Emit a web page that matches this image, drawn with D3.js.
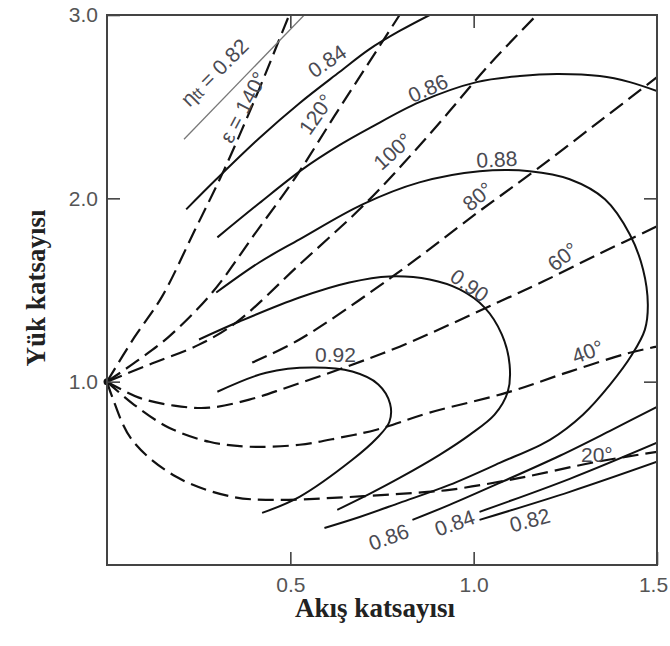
<!DOCTYPE html>
<html><head><meta charset="utf-8">
<script src="https://cdn.jsdelivr.net/npm/d3@7"></script>
<style>body{margin:0;background:#fff}</style>
</head><body><svg id="chart" width="670" height="646"></svg>
<script>
// ---------- data ----------
const xTicks = [0.5, 1.0, 1.5];
const yTicks = [1.0, 2.0, 3.0];
const xTitle = "Akış katsayısı";
const yTitle = "Yük katsayısı";

// efficiency contours (eta_tt), [flow coeff, load coeff]
const eff082Upper = [[0.210,2.322],[0.538,3.0]];
const eff084Upper = [[0.216,1.940],[0.298,2.104],[0.415,2.328],[0.525,2.519],[0.634,2.689],[0.716,2.814],[0.798,2.913],[0.880,3.0]];
const eff086Upper = [[0.301,1.787],[0.415,1.973],[0.533,2.158],[0.634,2.290],[0.716,2.383],[0.852,2.525],[1.008,2.634],[1.126,2.667],[1.227,2.678],[1.344,2.667],[1.426,2.634],[1.5,2.585]];
const eff088Loop = [[0.298,1.486],[0.415,1.650],[0.525,1.776],[0.697,1.967],[0.852,2.087],[1.016,2.148],[1.153,2.148],[1.262,2.104],[1.358,1.995],[1.426,1.803],[1.462,1.612],[1.475,1.421],[1.467,1.284],[1.432,1.148],[1.372,0.984],[1.298,0.820],[1.208,0.683],[1.071,0.557],[0.934,0.437],[0.798,0.339],[0.689,0.262],[0.593,0.202]];
const eff090Loop = [[0.251,1.230],[0.361,1.328],[0.525,1.459],[0.661,1.541],[0.770,1.574],[0.880,1.557],[0.962,1.503],[1.030,1.404],[1.077,1.257],[1.098,1.093],[1.093,0.945],[1.057,0.820],[0.989,0.710],[0.907,0.601],[0.798,0.475],[0.716,0.388],[0.628,0.301]];
const eff092Loop = [[0.301,0.945],[0.434,1.049],[0.560,1.077],[0.669,1.055],[0.740,0.985],[0.772,0.880],[0.770,0.780],[0.735,0.690],[0.669,0.574],[0.525,0.372],[0.423,0.284]];
const eff086Lower = [[0.833,0.246],[0.934,0.328],[1.071,0.448],[1.235,0.596],[1.372,0.732],[1.5,0.863]];
const eff084Lower = [[1.016,0.290],[1.262,0.470],[1.5,0.667]];
const eff082Lower = [[1.016,0.246],[1.262,0.399],[1.5,0.563]];

// flow angle lines (epsilon)
const ang140 = [[0,1],[0.074,1.240],[0.150,1.464],[0.238,1.820],[0.320,2.158],[0.415,2.596],[0.478,2.907],[0.497,3.0]];
const ang120 = [[0,1],[0.087,1.120],[0.169,1.246],[0.287,1.486],[0.402,1.803],[0.516,2.120],[0.620,2.448],[0.708,2.721],[0.798,3.0]];
const ang100 = [[0,1],[0.115,1.093],[0.251,1.202],[0.352,1.322],[0.525,1.639],[0.708,1.978],[0.880,2.350],[1.044,2.732],[1.172,3.0]];
const ang80  = [[0.396,1.104],[0.525,1.230],[0.779,1.574],[1.011,1.923],[1.172,2.158],[1.344,2.421],[1.5,2.661]];
const ang60  = [[0,1],[0.087,0.913],[0.183,0.869],[0.279,0.858],[0.388,0.902],[0.489,0.967],[0.661,1.087],[0.798,1.191],[0.934,1.311],[1.071,1.437],[1.189,1.546],[1.344,1.699],[1.5,1.847]];
const ang40  = [[0,1],[0.074,0.874],[0.169,0.749],[0.279,0.672],[0.388,0.645],[0.525,0.656],[0.634,0.694],[0.735,0.738],[0.880,0.831],[1.090,0.940],[1.262,1.055],[1.426,1.158],[1.5,1.191]];
const ang20  = [[0,1],[0.014,0.918],[0.068,0.683],[0.189,0.481],[0.342,0.372],[0.462,0.355],[0.615,0.366],[0.798,0.388],[0.934,0.410],[1.126,0.475],[1.336,0.563],[1.5,0.617]];

// curve labels: text, anchor [flow, load], rotation
const curveLabels = [
  {t:"ε = 140°", p:[0.371,2.497], r:-62},
  {t:"0.84", p:[0.600,2.749], r:-34},
  {t:"120°", p:[0.570,2.459], r:-55},
  {t:"0.86", p:[0.875,2.601], r:-24},
  {t:"100°", p:[0.779,2.257], r:-42},
  {t:"0.88", p:[1.063,2.213], r:-3},
  {t:"80°",  p:[1.011,2.011], r:-40},
  {t:"60°",  p:[1.243,1.683], r:-38},
  {t:"0.90", p:[0.989,1.525], r:35},
  {t:"0.92", p:[0.623,1.148], r:0},
  {t:"40°",  p:[1.311,1.164], r:-20},
  {t:"20°",  p:[1.336,0.601], r:0},
  {t:"0.86", p:[0.768,0.153], r:-20},
  {t:"0.84", p:[0.948,0.230], r:-20},
  {t:"0.82", p:[1.153,0.246], r:-15}
];
const etaLabel = {main:"η", sub:"tt", rest:" = 0.82", p:[0.292,2.689], r:-45};

// ---------- drawing ----------
const svg = d3.select("#chart");
const W = 670, H = 646;
const x = d3.scaleLinear().domain([0,1.5]).range([107,657]);
const y = d3.scaleLinear().domain([0,3]).range([565,15]);
const line = d3.line().x(d=>x(d[0])).y(d=>y(d[1])).curve(d3.curveCatmullRom.alpha(0.5));

svg.append("rect").attr("width",W).attr("height",H).attr("fill","#fff");
svg.append("clipPath").attr("id","plotclip").append("rect")
  .attr("x",x(0)).attr("y",y(3)).attr("width",x(1.5)-x(0)).attr("height",y(0)-y(3));

const plot = svg.append("g").attr("clip-path","url(#plotclip)");

const dashed = [ang140, ang120, ang100, ang80, ang60, ang40, ang20];
plot.selectAll("path.ang").data(dashed).enter().append("path")
  .attr("class","ang").attr("d",line).attr("fill","none")
  .attr("stroke","#111").attr("stroke-width",2.2).attr("stroke-dasharray","16,7");

const solid = [eff084Upper, eff086Upper, eff088Loop, eff090Loop, eff092Loop, eff086Lower, eff084Lower, eff082Lower];
plot.selectAll("path.eff").data(solid).enter().append("path")
  .attr("class","eff").attr("d",line).attr("fill","none")
  .attr("stroke","#111").attr("stroke-width",2);

plot.append("path").datum(eff082Upper).attr("d",line).attr("fill","none")
  .attr("stroke","#777").attr("stroke-width",1.3);

svg.append("circle").attr("cx",x(0)).attr("cy",y(1)).attr("r",3.5).attr("fill","#111");

// frame
svg.append("rect").attr("x",x(0)).attr("y",y(3)).attr("width",x(1.5)-x(0)).attr("height",y(0)-y(3))
  .attr("fill","none").attr("stroke","#444").attr("stroke-width",2);

const fmt = d3.format(".1f");
const axStyle = g => {
  g.select(".domain").remove();
  g.selectAll(".tick line").attr("stroke","#444").attr("stroke-width",1.6);
  g.selectAll(".tick text").attr("fill","#555").style("font-family","'Liberation Sans', Arial, sans-serif").style("font-size","21px");
};
const xAx = svg.append("g").attr("transform",`translate(0,${y(0)})`)
  .call(d3.axisBottom(x).tickValues(xTicks).tickFormat(fmt).tickSizeInner(-13).tickSizeOuter(0).tickPadding(12))
  .call(axStyle);
xAx.selectAll(".tick text").filter(d=>d===1.5).attr("dx",-4);
svg.append("g").attr("transform",`translate(0,${y(3)})`)
  .call(d3.axisTop(x).tickValues(xTicks.slice(0,2)).tickFormat("").tickSizeInner(-13).tickSizeOuter(0))
  .call(axStyle);
svg.append("g").attr("transform",`translate(${x(0)},0)`)
  .call(d3.axisLeft(y).tickValues(yTicks).tickFormat(fmt).tickSizeInner(-13).tickSizeOuter(0).tickPadding(9))
  .call(axStyle);
svg.append("g").attr("transform",`translate(${x(1.5)},0)`)
  .call(d3.axisRight(y).tickValues(yTicks.slice(0,2)).tickFormat("").tickSizeInner(-13).tickSizeOuter(0))
  .call(axStyle);

// curve labels
const lab = svg.append("g").style("font-family","'Liberation Sans', Arial, sans-serif")
  .style("font-size","21px").attr("fill","#4a4a52");
lab.selectAll("text").data(curveLabels).enter().append("text")
  .attr("transform",d=>`translate(${x(d.p[0])},${y(d.p[1])}) rotate(${d.r})`)
  .attr("text-anchor","middle").attr("dominant-baseline","central")
  .text(d=>d.t);
const et = lab.append("text")
  .attr("transform",`translate(${x(etaLabel.p[0])},${y(etaLabel.p[1])}) rotate(${etaLabel.r})`)
  .attr("text-anchor","middle").attr("dominant-baseline","central");
et.append("tspan").text(etaLabel.main);
et.append("tspan").attr("font-size","16px").attr("dy",3).text(etaLabel.sub);
et.append("tspan").attr("dy",-3).text(etaLabel.rest);

// axis titles
svg.append("text").attr("x",375).attr("y",617).attr("text-anchor","middle")
  .style("font-family","'Liberation Serif', 'Times New Roman', serif").style("font-weight","bold")
  .style("font-size","27px").attr("fill","#222").text(xTitle);
svg.append("text").attr("transform","translate(45,288) rotate(-90)").attr("text-anchor","middle")
  .style("font-family","'Liberation Serif', 'Times New Roman', serif").style("font-weight","bold")
  .style("font-size","27px").attr("fill","#222").text(yTitle);
</script></body></html>
